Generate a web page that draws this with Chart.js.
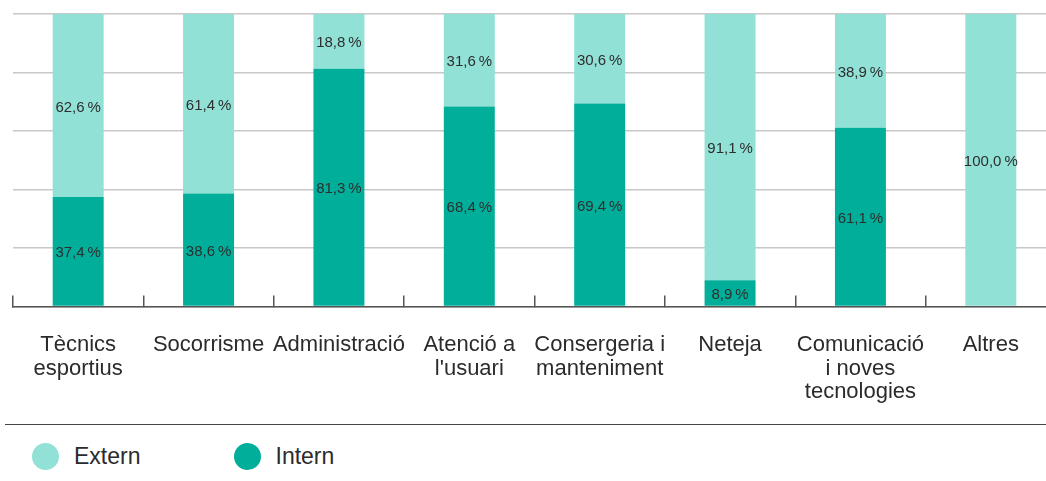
<!DOCTYPE html>
<html>
<head>
<meta charset="utf-8">
<script src="https://cdn.jsdelivr.net/npm/chart.js@4.4.1/dist/chart.umd.min.js"></script>
<style>
  html, body { margin: 0; padding: 0; background: #fff; overflow: hidden; }
  #wrap { position: relative; width: 1046px; height: 481px; overflow: hidden; }
  #chart { position: absolute; left: 0; top: 0; }
  #sep { position: absolute; left: 5px; top: 424px; width: 1041px; height: 0; border-top: 1.5px solid #444; }
  #legend { position: absolute; left: 32px; top: 443px; display: flex; }
  .item { display: flex; align-items: center; width: 201.5px; height: 27px; }
  .dot { width: 27px; height: 27px; border-radius: 50%; margin-right: 15px; flex: none; }
  .lbl { font: 23px "Liberation Sans", Arial, sans-serif; color: #2b2b2b; line-height: 27px; }
</style>
</head>
<body>
<div id="wrap">
  <canvas id="chart" width="1070" height="442"></canvas>
  <div id="sep"></div>
  <div id="legend"></div>
</div>
<script>
const categories = [
  ['Tècnics', 'esportius'],
  ['Socorrisme'],
  ['Administració'],
  ['Atenció a', "l'usuari"],
  ['Consergeria i', 'manteniment'],
  ['Neteja'],
  ['Comunicació', 'i noves', 'tecnologies'],
  ['Altres']
];
const internValues = [37.4, 38.6, 81.3, 68.4, 69.4, 8.9, 61.1, 0];
const externValues = [62.6, 61.4, 18.8, 31.6, 30.6, 91.1, 38.9, 100.0];
const yTicks = [0, 20, 40, 60, 80, 100];
const seriesNames = ['Intern', 'Extern'];
const seriesColors = ['#00ae9a', '#91e1d6'];

function fmt(v) {
  return v.toFixed(1).replace('.', ',') + '\u2009%';
}

const valueLabels = {
  id: 'valueLabels',
  afterDatasetsDraw(chart) {
    const ctx = chart.ctx;
    ctx.save();
    ctx.font = '15px "Liberation Sans", Arial, sans-serif';
    ctx.fillStyle = '#2e2e2e';
    ctx.textAlign = 'center';
    ctx.textBaseline = 'middle';
    chart.data.datasets.forEach((ds, i) => {
      const meta = chart.getDatasetMeta(i);
      meta.data.forEach((bar, j) => {
        const v = ds.data[j];
        if (!v) return;
        const p = bar.getProps(['x', 'y', 'base'], true);
        ctx.fillText(fmt(v), p.x, (p.y + p.base) / 2 + 2);
      });
    });
    ctx.restore();
  }
};

const chart = new Chart(document.getElementById('chart'), {
  type: 'bar',
  data: {
    labels: categories,
    datasets: [
      { label: seriesNames[0], data: internValues, backgroundColor: seriesColors[0] },
      { label: seriesNames[1], data: externValues, backgroundColor: seriesColors[1] }
    ]
  },
  options: {
    responsive: false,
    animation: false,
    devicePixelRatio: 1,
    layout: { padding: { left: 13, top: 14, right: 14, bottom: 0 } },
    datasets: { bar: { categoryPercentage: 1, barPercentage: 0.391 } },
    plugins: { legend: { display: false }, tooltip: { enabled: false } },
    scales: {
      x: {
        stacked: true,
        afterFit(scale) { scale.paddingLeft = 0; scale.paddingRight = 0; },
        grid: { display: true, drawOnChartArea: false, drawTicks: true, tickLength: -11, color: '#555', lineWidth: 1.5, offset: true },
        border: { display: true, color: '#555', width: 1.5 },
        ticks: {
          padding: 38,
          color: '#2b2b2b',
          font: { family: '"Liberation Sans", Arial, sans-serif', size: 22, lineHeight: 1.07 },
          maxRotation: 0, autoSkip: false
        }
      },
      y: {
        stacked: true,
        min: yTicks[0],
        max: yTicks[yTicks.length - 1],
        afterBuildTicks(scale) { scale.ticks = yTicks.map(v => ({ value: v })); },
        ticks: { display: false },
        border: { display: false },
        grid: { color: '#c8c8c8', lineWidth: 1.5, drawTicks: false }
      }
    }
  },
  plugins: [valueLabels]
});

// HTML legend built from the series arrays (Extern first, as in the reference)
const legend = document.getElementById('legend');
[1, 0].forEach(i => {
  const item = document.createElement('div');
  item.className = 'item';
  const dot = document.createElement('div');
  dot.className = 'dot';
  dot.style.background = seriesColors[i];
  const lbl = document.createElement('div');
  lbl.className = 'lbl';
  lbl.textContent = seriesNames[i];
  item.appendChild(dot);
  item.appendChild(lbl);
  legend.appendChild(item);
});
</script>
</body>
</html>
